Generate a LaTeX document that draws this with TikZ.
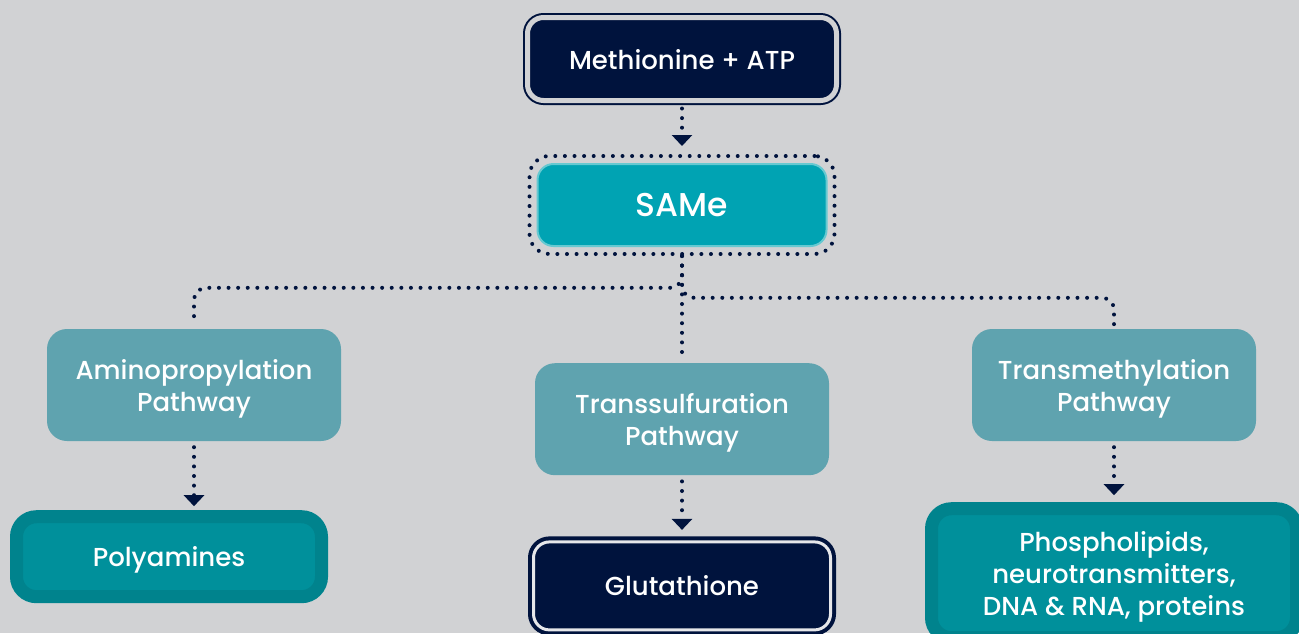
\documentclass[tikz,border=0pt]{standalone}
\usepackage{fontspec}
\setmainfont{Poppins}[UprightFont=* Medium]
\usetikzlibrary{positioning,fit,calc,arrows.meta}

\definecolor{bgc}{HTML}{D1D2D4}
\definecolor{navyc}{HTML}{00133D}
\definecolor{gapc}{HTML}{E6E7EA}
\definecolor{samec}{HTML}{00A3B3}
\definecolor{sameedge}{HTML}{66C9D1}
\definecolor{pathc}{HTML}{5FA3AF}
\definecolor{outc}{HTML}{00838D}
\definecolor{inc}{HTML}{00909B}

\begin{document}
\begin{tikzpicture}[x=1pt, y=-1pt,
    lbl/.style={text=white, font=\fontsize{26}{32}\selectfont, align=center, inner sep=0pt, text depth=0pt},
    navybox/.style={lbl, rounded corners=16pt, fill=navyc, draw=navyc, line width=2pt, double=bgc, double distance=5pt},
    glutbox/.style={lbl, rounded corners=16pt, fill=navyc, draw=navyc, line width=4pt, double=gapc, double distance=3pt},
    samebox/.style={lbl, font=\fontsize{33}{38}\selectfont, rounded corners=16pt, fill=samec, draw=sameedge, line width=2pt},
    ring/.style={draw=navyc, line width=4pt, dash pattern=on 0pt off 9.6pt, line cap=round, rounded corners=20pt},
    pathbox/.style={lbl, rounded corners=20pt, fill=pathc, minimum height=112pt},
    outbox/.style={lbl, rounded corners=20pt, fill=inc, draw=outc, line width=13pt},
    dotline/.style={draw=navyc, line width=4pt, dash pattern=on 0pt off 9.6pt, line cap=round},
    dotarrow/.style={dotline, -{Triangle[width=20pt,length=11pt]}}
  ]
  \useasboundingbox (0,0) rectangle (1299,633);
  \fill[bgc] (0,0) rectangle (1299,633);
  \clip (0,0) rectangle (1299,633);

  % top of the chain
  \node[navybox, minimum width=309pt, minimum height=83pt] (met) at (682,59) {Methionine + ATP};
  \node[samebox, minimum width=289pt, minimum height=82pt, below=61.5pt of met] (same) {SAMe};
  \node[ring, fit=(same), inner sep=7pt] (sameRing) {};

  % pathways
  \node[pathbox, minimum width=294pt] (amino) at (194,385) {Aminopropylation\\Pathway};
  \node[pathbox, minimum width=294pt, below=116pt of same] (trans) {Transsulfuration\\Pathway};
  \node[pathbox, minimum width=284pt] (tmeth) at (1114,385) {Transmethylation\\Pathway};

  % products
  \node[outbox, minimum width=305pt, minimum height=80pt, below=69pt of amino, xshift=-25pt] (poly) {Polyamines};
  \node[glutbox, minimum width=297pt, minimum height=88pt, below=64.5pt of trans] (glut) {Glutathione};
  \node[outbox, minimum width=365pt, minimum height=129pt, below=61pt of tmeth] (phos) {Phospholipids,\\neurotransmitters,\\DNA \& RNA, proteins};

  \coordinate (aBend) at ($(amino.north)+(0,-41)$);
  \coordinate (tBend) at ($(tmeth.north)+(0,-31)$);

  \draw[dotarrow, shorten <=7pt, shorten >=8pt] (met) -- (sameRing);
  \draw[dotline, rounded corners=12pt, shorten >=4pt] (sameRing.south) |- (aBend) -- (amino.north);
  \draw[dotline, rounded corners=12pt] (sameRing.south) |- (tBend) -- (tmeth.north);
  \draw[dotline, shorten >=7pt] (sameRing.south) -- (trans.north);
  \draw[dotarrow, shorten <=6pt, shorten >=4pt] (amino.south) -- (amino.south |- poly.north);
  \draw[dotarrow, shorten <=6pt, shorten >=10pt] (trans) -- (glut);
  \draw[dotarrow, shorten <=6pt, shorten >=7pt] (tmeth) -- (phos);
\end{tikzpicture}
\end{document}
